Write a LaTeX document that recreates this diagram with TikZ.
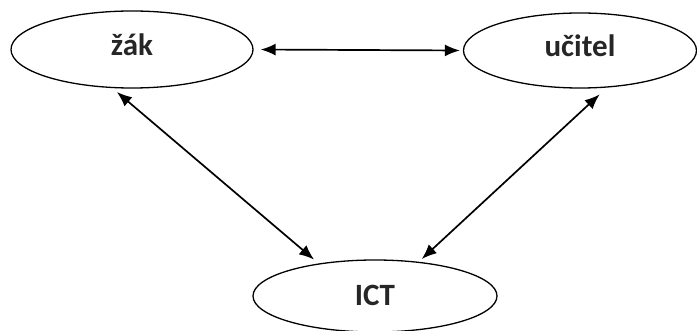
\documentclass[tikz,border=0pt]{standalone}
\usepackage{fontspec}
\setmainfont{Carlito}
\usetikzlibrary{arrows.meta,shapes.geometric}
\tikzset{
  oval/.style={draw=black, line width=1.3pt, ellipse, inner sep=0pt, font=\fontsize{31}{34}\selectfont\bfseries, text=black!85},
  lbl/.style={font=\fontsize{31}{34}\selectfont\bfseries, text=black!85, inner sep=0pt},
  arr/.style={line width=1.7pt, {Latex[length=15pt,width=12pt]}-{Latex[length=15pt,width=12pt]}}
}
\begin{document}
\begin{tikzpicture}[x=1pt,y=-1pt]
\useasboundingbox (0,0) rectangle (697,331);
\node[oval, minimum width=242pt, minimum height=77pt] (zak) at (132,49.5) {};
\node[oval, minimum width=233pt, minimum height=75pt] (ucitel) at (580,50.5) {};
\node[oval, minimum width=244pt, minimum height=72pt] (ict) at (375,296) {};
\node[lbl, anchor=base] (zakt) at (132,56) {žák};
\node[lbl, anchor=base] (ucitelt) at (580,57) {učitel};
\node[lbl, anchor=base] (ictt) at (375,306) {ICT};
\draw[arr, shorten <=7pt, shorten >=3pt] (zak.east) -- (ucitel.west);
\draw[arr, shorten <=6pt, shorten >=6pt] (zak.243) -- (ict.150.7);
\draw[arr, shorten <=10pt, shorten >=4pt] (ucitel.306) -- (ict.38);
\end{tikzpicture}
\end{document}
